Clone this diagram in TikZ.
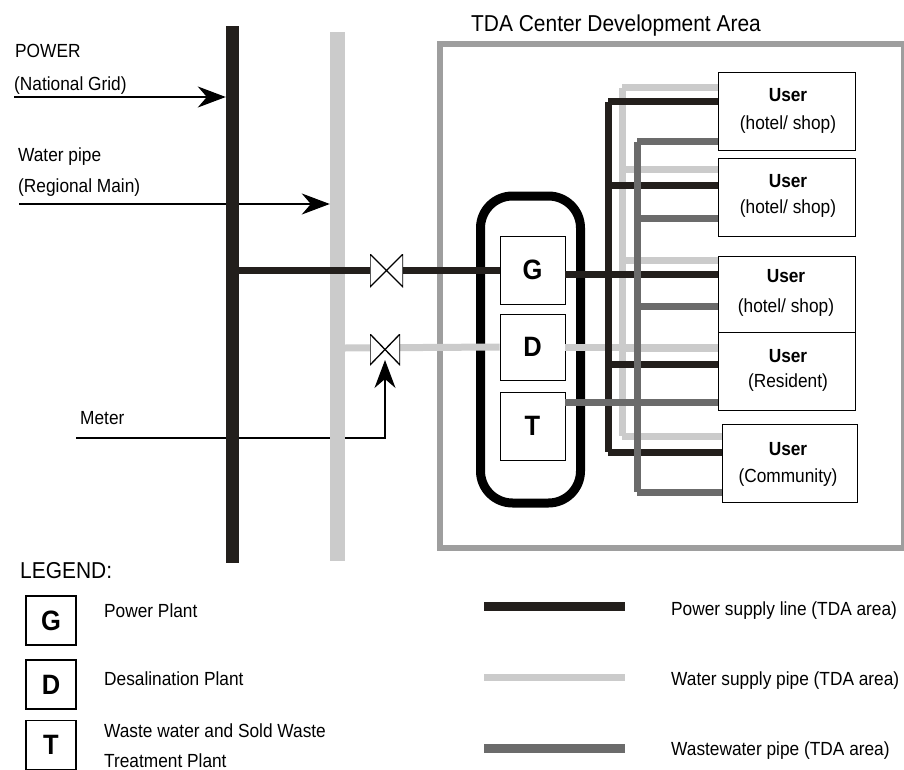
\documentclass[tikz,border=0pt]{standalone}
\usepackage{fontspec}
\setmainfont[FakeStretch=0.91]{Liberation Sans}
\usetikzlibrary{arrows.meta}
\definecolor{powerblack}{HTML}{231F1C}
\definecolor{waterlight}{HTML}{CBCBCB}
\definecolor{wastedark}{HTML}{6B6B6B}
\definecolor{areagray}{HTML}{9E9E9E}
\tikzset{x=1pt, y=-1pt,
txt/.style={ % Sets the properties for each label
inner sep=0pt,
anchor=base west,
font=\fontsize{19}{21}\selectfont},
usertxt/.style={txt, anchor=base},
titletxt/.style={txt, font=\fontsize{23}{25}\selectfont},
plantbox/.style={ % Sets the properties for G, D, T
draw, thick, fill=white, inner sep=0pt,
minimum width=65pt,
font=\fontsize{28}{30}\selectfont\bfseries},
legendbox/.style={plantbox, line width=1.2pt, minimum width=50pt, minimum height=49pt},
userbox/.style={draw, thick, fill=white, minimum height=78pt},
powerpipe/.style={draw=powerblack, line width=7pt, line join=round},
waterpipe/.style={draw=waterlight, line width=7pt, line join=round},
wastepipe/.style={draw=wastedark, line width=7pt, line join=round},
thinline/.style={draw=black, line width=1.2pt},
bigtip/.style={-{Stealth[length=28pt, width=21pt, inset=9pt]}},
valve/.style={ % Sets the properties for each valve
minimum width=32pt, inner sep=0pt, fill=white,
path picture={\draw[line width=1.3pt] (path picture bounding box.south west) -- (path picture bounding box.north east) -- (path picture bounding box.south east) -- (path picture bounding box.north west) -- cycle;}}}
\begin{document}
\begin{tikzpicture}
	\useasboundingbox (0,0) rectangle (904,770);
	% feed lines, they pass behind the bars
	\coordinate (gridin) at (14,97);
	\coordinate (mainin) at (19,204);
	\coordinate (meterin) at (76,438);
	\coordinate (metertip) at (385,360);
	\node[fill=powerblack, minimum width=13pt, minimum height=537pt, inner sep=0pt] (gridbar) at (232.5,294.5) {};
	\node[fill=waterlight, minimum width=15pt, minimum height=529pt, inner sep=0pt] (mainbar) at (337.5,296.5) {};
	\draw[thinline, bigtip] (gridin) -- (gridbar.west |- gridin);
	\draw[draw=areagray, line width=6pt] (440,44.5) rectangle (904.3,548);
	\node[draw, line width=9pt, rounded corners=32pt, minimum width=100pt, minimum height=307pt, inner sep=0pt] (plant) at (530.5,349.5) {};
	% water pipes go first, then power, then wastewater
	\coordinate (wbus) at (622,0);
	\coordinate (pbus) at (608,0);
	\coordinate (tbus) at (637,0);
	\node[plantbox, minimum height=68pt] (G) at (532.5,270) {G};
	\node[plantbox, minimum height=66pt] (D) at (532.5,347) {D};
	\node[plantbox, minimum height=68pt] (T) at (532.5,426) {T};
	\node[userbox, minimum width=137pt] (u1) at (786.5,111) {};
	\node[userbox, minimum width=137pt] (u2) at (786.5,197) {};
	\node[userbox, minimum width=137pt, minimum height=76pt] (u3) at (786.5,294) {};
	\node[userbox, minimum width=137pt] (u4) at (786.5,371) {};
	\node[userbox, minimum width=135pt] (u5) at (789.5,463) {};
	\draw[waterpipe] (wbus |- 0,88) -- (wbus |- 0,436);
	\foreach \u/\y in {u1/88,u2/170,u3/260,u4/348,u5/436}
		\draw[waterpipe] (wbus |- 0,\y) -- (\u.west |- 0,\y);
	\draw[waterpipe] (mainbar.east |- 0,348) -- (D.west);
	\draw[waterpipe] (D.east) -- (u4.west |- D.east);
	\draw[powerpipe] (pbus |- 0,102) -- (pbus |- 0,452);
	\foreach \u/\y in {u1/102,u2/186,u3/274,u4/364,u5/452}
		\draw[powerpipe] (pbus |- 0,\y) -- (\u.west |- 0,\y);
	\draw[powerpipe] (gridbar.east |- G.west) -- (G.west);
	\draw[powerpipe] (G.east |- 0,274) -- (u3.west |- 0,274);
	\draw[wastepipe] (tbus |- 0,142) -- (tbus |- 0,492);
	\foreach \u/\y in {u1/142,u2/218,u3/306,u5/492}
		\draw[wastepipe] (tbus |- 0,\y) -- (\u.west |- 0,\y);
	\draw[wastepipe] (T.east |- 0,402) -- (u4.west |- 0,402);
	% valves and meter
	\node[valve, minimum height=33pt, minimum width=33pt] (v1) at (386.5,270.5) {};
	\node[valve, minimum height=31pt, minimum width=30pt] (v2) at (385,349.5) {};
	\draw[thinline] (meterin) -- (gridbar.west |- meterin);
	\draw[thinline] (gridbar.east |- meterin) -- (mainbar.west |- meterin);
	\draw[thinline, bigtip] (mainbar.east |- meterin) -| (metertip);
	\draw[thinline] (mainin) -- (gridbar.west |- mainin);
	\draw[thinline, bigtip] (gridbar.east |- mainin) -- (mainbar.west |- mainin);
	% labels
	\node[txt] (tpower) at (15,58) {POWER};
	\node[txt] (tgrid) at (14,91) {(National Grid)};
	\node[txt] (twater) at (18,162) {Water pipe};
	\node[txt] (tmain) at (18,193) {(Regional Main)};
	\node[txt] (tmeter) at (80,424) {Meter};
	\node[titletxt] (ttitle) at (471,32) {TDA Center Development Area};
	\foreach \n/\y/\yy/\x/\sub in {a/102/130/788/{(hotel/ shop)},b/188/213/788/{(hotel/ shop)},c/282/312/786/{(hotel/ shop)},d/362/387/788/(Resident),e/455/482/788/(Community)} {
		\node[usertxt] (user\n) at (\x,\y) {\bfseries User};
		\node[usertxt] (sub\n) at (\x,\yy) {\sub};
	}
	% legend
	\node[titletxt] (tlegend) at (20,578) {LEGEND:};
	\node[legendbox] (lg) at (51,620.5) {G};
	\node[legendbox] (ld) at (51,684.5) {D};
	\node[legendbox] (lt) at (51,745) {T};
	\node[txt] (tg) at (104,617) {Power Plant};
	\node[txt] (td) at (104,685) {Desalination Plant};
	\node[txt] (tt) at (104,737) {Waste water and Sold Waste};
	\node[txt] (tt2) at (104,767) {Treatment Plant};
	\node[txt] (tpw) at (671,615) {Power supply line (TDA area)};
	\node[txt] (twt) at (671,685) {Water supply pipe (TDA area)};
	\node[txt] (tww) at (671,755) {Wastewater pipe (TDA area)};
	\coordinate (lpw) at (484,606.5);
	\coordinate (lwt) at (484,677);
	\coordinate (lww) at (484,748);
	\draw[powerpipe, line width=9pt] (lpw) -- ++(141,0);
	\draw[waterpipe] (lwt) -- ++(141,0);
	\draw[wastepipe, line width=9pt] (lww) -- ++(141,0);
\end{tikzpicture}
\end{document}
